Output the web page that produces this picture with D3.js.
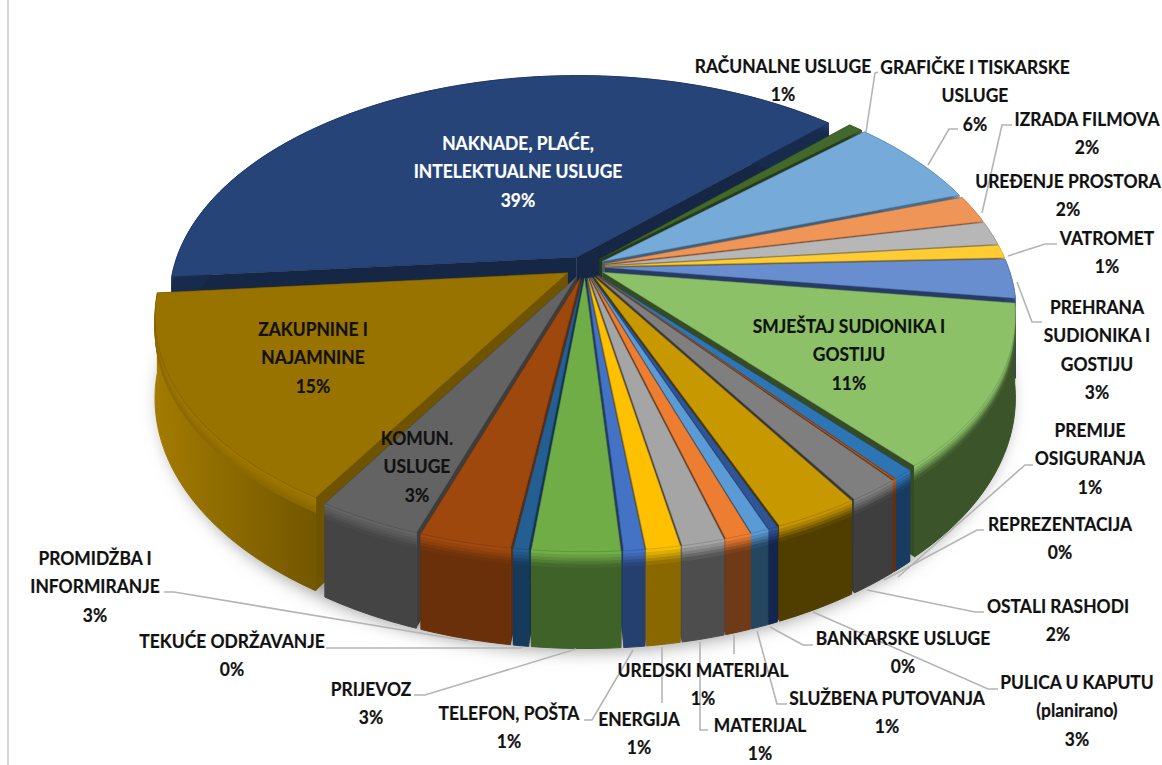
<!DOCTYPE html>
<html>
<head>
<meta charset="utf-8">
<script src="https://cdn.jsdelivr.net/npm/d3@7"></script>
<style>
  html, body { margin: 0; padding: 0; background: #fff; overflow: hidden; }
  text { font-family: Lato, "Open Sans", sans-serif; font-weight: 700; font-size: 19px; fill: #111; stroke: #111; stroke-width: 0.2; text-anchor: middle; dominant-baseline: central; }
</style>
</head>
<body>
<div id="chart"></div>
<script>
// Chart values, clockwise from the big navy slice
const names = [
  "NAKNADE, PLAĆE,|INTELEKTUALNE USLUGE", "RAČUNALNE USLUGE", "GRAFIČKE I TISKARSKE|USLUGE",
  "IZRADA FILMOVA", "UREĐENJE PROSTORA", "VATROMET", "PREHRANA|SUDIONIKA I|GOSTIJU",
  "SMJEŠTAJ SUDIONIKA I|GOSTIJU", "PREMIJE|OSIGURANJA", "REPREZENTACIJA", "OSTALI RASHODI",
  "PULICA U KAPUTU|(planirano)", "BANKARSKE USLUGE", "SLUŽBENA PUTOVANJA", "MATERIJAL",
  "UREDSKI MATERIJAL", "ENERGIJA", "TELEFON, POŠTA", "PRIJEVOZ", "TEKUĆE ODRŽAVANJE",
  "PROMIDŽBA I|INFORMIRANJE", "KOMUN.|USLUGE", "ZAKUPNINE I|NAJAMNINE"
];
const values = [39, 0.7, 6.49, 2, 1.7, 0.95, 2.8, 11.45, 0.7, 0.08, 1.72, 2.8, 0.32, 0.58, 0.85, 1.4, 1.1, 0.68, 2.86, 0.5, 3, 3.45, 14.95];
const percents = ["39%", "1%", "6%", "2%", "2%", "1%", "3%", "11%", "1%", "0%", "2%", "3%", "0%", "1%", "1%", "1%", "1%", "1%", "3%", "0%", "3%", "3%", "15%"];
const topColors = [
  "#264478", "#43682b", "#75aad9", "#ef9558", "#b7b7b7", "#ffcd33", "#698ed0",
  "#8cc168", "#2e75b6", "#c55a11", "#7f7f7f", "#c89800", "#2f5597", "#5b9bd5", "#ed7d31",
  "#a5a5a5", "#ffc000", "#4472c4", "#70ad47", "#255e91", "#9e480e", "#636363", "#997300"
];
const wallColors = [
  "#172b4d", "#2a401a", "#426c90", "#8f4f22", "#6e6e6e", "#8f6c00", "#2a4272",
  "#3b5429", "#173c60", "#6a2e08", "#3e3e3e", "#503d00", "#14264d", "#24465f", "#6e3a18",
  "#4d4d4d", "#8a6800", "#25406e", "#3f6228", "#163a5a", "#6a3009", "#444444", "#7a5c00"
];

// Label centres and the first line's y, same order as names
const labelX = [518, 783, 975, 1087, 1068, 1107, 1097, 849, 1090, 1060, 1058, 1077, 903, 887, 760, 703, 639, 509, 371, 232, 95, 417, 313];
const labelY = [143, 66, 67, 119, 181, 238, 307, 326, 430, 524, 606, 682, 638, 698, 725, 670, 719, 713, 689, 641, 558, 438, 329];

// Leader lines, drawn from the label towards the pie
const leaders = [
  [[878, 72], [875, 73], [866, 132]],
  [[958, 129], [949, 129], [928, 165]],
  [[1012, 125], [1002, 125], [982, 213]],
  [[1057, 244], [1045, 244], [1008, 256]],
  [[1042, 322], [1032, 322], [1017, 282]],
  [[1033, 465], [1025, 465], [898, 577]],
  [[984, 530], [977, 530], [884, 580]],
  [[984, 612], [975, 612], [867, 590]],
  [[998, 689], [988, 689], [813, 612]],
  [[813, 645], [803, 645], [770, 627]],
  [[787, 704], [777, 704], [757, 631]],
  [[708, 730], [700, 730], [700, 642]],
  [[734, 654], [734, 635]],
  [[662, 703], [662, 647]],
  [[584, 720], [592, 720], [633, 650]],
  [[414, 695], [425, 695], [576, 649]],
  [[326, 648], [522, 648]],
  [[164, 592], [174, 592], [468, 641]]
];

const width = 1162, height = 765;
const CX = 585, CY = 267;     // pie centre on screen
const RX = 403, RY = 218.5;   // plane radii before perspective
const PERSP = 0.185;          // front of the pie is nearer the viewer
const DEPTH = 78;             // wall height
const EXPLODE = 0.05;         // slice offset, in radii

const svg = d3.select("#chart").append("svg").attr("width", width).attr("height", height);

const defs = svg.append("defs");
defs.append("filter").attr("id", "soft")
  .attr("x", "-10%").attr("y", "-10%").attr("width", "120%").attr("height", "120%")
  .append("feGaussianBlur").attr("stdDeviation", 9);
const zakGrad = defs.append("linearGradient").attr("id", "zakWall")
  .attr("gradientUnits", "userSpaceOnUse").attr("x1", 150).attr("x2", 330).attr("y1", 0).attr("y2", 0);
zakGrad.append("stop").attr("offset", 0).attr("stop-color", "#a47c00");
zakGrad.append("stop").attr("offset", 1).attr("stop-color", "#6f5400");

svg.append("line").attr("x1", 8).attr("x2", 8).attr("y1", 0).attr("y2", height)
  .attr("stroke", "#d4d4d4").attr("stroke-width", 2);

// u, v in the pie plane (v grows to the front), z from 0 (top) to 1 (bottom)
function project(u, v, z = 0) {
  const s = 1 / (1 - PERSP * v);
  return [CX + RX * u * s, CY + RY * v * s + DEPTH * z * s];
}

const line = d3.line();
const closed = (pts) => line(pts) + "Z";

const pie = d3.pie().sort(null).value((d) => d)
  .startAngle(-1.66).endAngle(-1.66 + 2 * Math.PI);
const slices = pie(values).map((a, i) => {
  const mid = (a.startAngle + a.endAngle) / 2;
  const steps = Math.max(2, Math.ceil((a.endAngle - a.startAngle) / 0.02));
  const rim = d3.range(steps + 1).map((k) => {
    const t = a.startAngle + ((a.endAngle - a.startAngle) * k) / steps;
    return [Math.sin(t) + EXPLODE * Math.sin(mid), -Math.cos(t) - EXPLODE * Math.cos(mid)];
  });
  const apex = [EXPLODE * Math.sin(mid), -EXPLODE * Math.cos(mid)];
  return { i, mid, rim, apex, color: topColors[i], wall: wallColors[i] };
});

// Soft shadow under the whole pie
const outline = d3.range(0, 361, 3).map((deg) => {
  const t = (deg * Math.PI) / 180;
  return project(Math.sin(t) * 1.03, -Math.cos(t) * 1.03 + 0.02, 1.02);
});
svg.append("path").attr("d", closed(outline)).attr("fill", "#9a9a9a").attr("filter", "url(#soft)");

// Painter's order: back slices first
const order = slices.slice().sort((a, b) => -Math.cos(a.mid) - -Math.cos(b.mid));

const bevel = [0, 0.035, 0.07, 0.1, 0.13, 0.16];
const pie3d = svg.append("g");
order.forEach((s) => {
  const g = pie3d.append("g");
  const at = (p, z) => project(p[0], p[1], z);
  const first = s.rim[0], last = s.rim[s.rim.length - 1];
  const radialFill = d3.rgb(s.wall).darker(0.3).formatHex();

  [first, last].forEach((p) => {
    g.append("path")
      .attr("d", closed([at(s.apex, 0), at(p, 0), at(p, 1), at(s.apex, 1)]))
      .attr("fill", radialFill);
  });

  const band = (z0, z1, fill) =>
    g.append("path")
      .attr("d", closed([...s.rim.map((p) => at(p, z0)), ...s.rim.slice().reverse().map((p) => at(p, z1))]))
      .attr("fill", fill).attr("stroke", fill).attr("stroke-width", 1);

  band(0.15, 1, s.i === 22 ? "url(#zakWall)" : s.wall);
  const mix = d3.interpolateRgb(d3.rgb(s.color).brighter(0.15).formatHex(), s.i === 22 ? "#8a6800" : s.wall);
  bevel.slice(1).forEach((z1, k) => band(bevel[k], z1, mix((k + 0.5) / (bevel.length - 1))));

  g.append("path")
    .attr("d", closed([at(s.apex, 0), ...s.rim.map((p) => at(p, 0))]))
    .attr("fill", s.color)
    .attr("stroke", d3.rgb(s.color).darker(0.8).formatHex())
    .attr("stroke-width", 0.5);
});

// Leader lines
svg.append("g").selectAll("path").data(leaders).join("path")
  .attr("d", (d) => line(d)).attr("fill", "none")
  .attr("stroke", "#b4b4b4").attr("stroke-width", 1.6);

// Labels
const labelG = svg.append("g").selectAll("g").data(names).join("g");
labelG.each(function (name, i) {
  const rows = name.split("|").concat(percents[i]);
  d3.select(this).selectAll("text").data(rows).join("text")
    .attr("transform", (d, k) => `translate(${labelX[i]},${labelY[i] + k * 28.2}) scale(0.917,1)`)
    .style("fill", i === 0 ? "#fff" : null)
    .style("stroke", i === 0 ? "#fff" : null)
    .text((d) => d);
});
</script>
</body>
</html>
